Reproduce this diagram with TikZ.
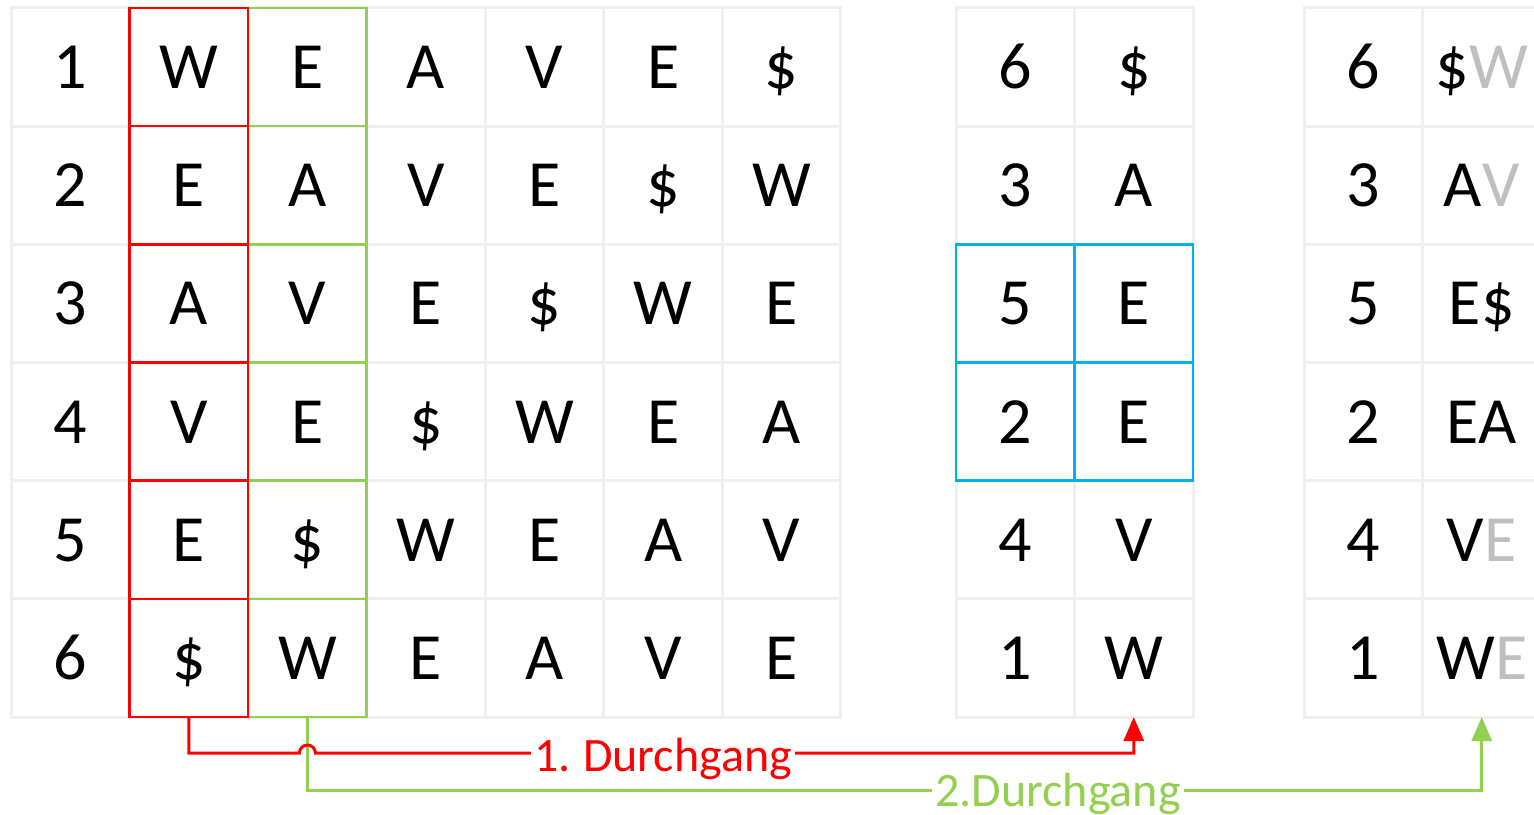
\documentclass[tikz,border=0pt]{standalone}
\usepackage{fontspec}
\setmainfont{Carlito}
\usetikzlibrary{arrows.meta,calc}
\definecolor{gridc}{HTML}{EFEFEF}
\definecolor{cred}{HTML}{FF0000}
\definecolor{cgreen}{HTML}{92D050}
\definecolor{cblue}{HTML}{00B0F0}
\definecolor{cgray}{HTML}{BFBFBF}
\tikzset{
 cell/.style={draw=gridc, line width=3pt, minimum width=118.5pt, minimum height=118.2pt,
   inner sep=0pt, outer sep=0pt, font=\fontsize{66}{70}\selectfont,
   text height=43pt, text depth=0pt, anchor=center},
 redbox/.style={draw=cred, line width=2.5pt},
 greenbox/.style={draw=cgreen, line width=2.5pt},
 bluebox/.style={draw=cblue, line width=2.5pt},
 redline/.style={draw=cred, line width=3pt, -{Triangle[width=20pt,length=24pt]}},
 greenline/.style={draw=cgreen, line width=3pt, -{Triangle[width=20pt,length=24pt]}},
 lab/.style={fill=white, inner xsep=3pt, inner ysep=0pt, font=\fontsize{48}{52}\selectfont,
   text height=31pt, text depth=0pt, anchor=center}
}
\begin{document}
\begin{tikzpicture}[x=1pt,y=1pt]
\useasboundingbox (0,0) rectangle (1534,-814);
\clip (0,0) rectangle (1534,-814);
\fill[white] (0,0) rectangle (1534,-814);
% left table
\foreach \r/\row in {1/{1,W,E,A,V,E,\$},2/{2,E,A,V,E,\$,W},3/{3,A,V,E,\$,W,E},
                     4/{4,V,E,\$,W,E,A},5/{5,E,\$,W,E,A,V},6/{6,\$,W,E,A,V,E}}{
  \foreach \t [count=\c] in \row {
    \node[cell] (L-\r-\c) at ({11+118.57*(\c-0.5)},{-(8+118.17*(\r-0.5))}) {\t};
  }
}
% middle table
\foreach \r/\a/\b in {1/6/\$,2/3/A,3/5/E,4/2/E,5/4/V,6/1/W}{
  \node[cell] (M-\r-1) at ({956+59.25},{-(8+118.17*(\r-0.5))}) {\a};
  \node[cell] (M-\r-2) at ({956+3*59.25},{-(8+118.17*(\r-0.5))}) {\b};
}
% right table
\foreach \r/\a/\b in {1/6/{\$\textcolor{cgray}{W}},2/3/{A\textcolor{cgray}{V}},3/5/{E\$},
                      4/2/{EA},5/4/{V\textcolor{cgray}{E}},6/1/{W\textcolor{cgray}{E}}}{
  \node[cell] (R-\r-1) at ({1304+59.25},{-(8+118.17*(\r-0.5))}) {\a};
  \node[cell] (R-\r-2) at ({1304+3*59.25},{-(8+118.17*(\r-0.5))}) {\b};
}
% highlight boxes
\foreach \r in {1,...,6}{
  \draw[greenbox] (L-\r-3.south west) rectangle (L-\r-3.north east);
}
\foreach \r in {1,...,6}{
  \draw[redbox] (L-\r-2.south west) rectangle (L-\r-2.north east);
}
\foreach \r in {3,4}{
  \draw[bluebox] (M-\r-1.south west) rectangle (M-\r-1.north east);
  \draw[bluebox] (M-\r-2.south west) rectangle (M-\r-2.north east);
}
% connectors
\draw[greenline] (L-6-3.south) -- ++(0,-73) coordinate (ga) -- (ga -| R-6-2.south) -- (R-6-2.south);
\draw[redline] (L-6-2.south) -- ++(0,-36) coordinate (ra)
   -- ([xshift=-8pt]ra -| L-6-3.south) arc[start angle=180,end angle=0,radius=8pt]
   -- (ra -| M-6-2.south) -- (M-6-2.south);
\node[lab, text=cred] (lab1) at (663,-756) {1.\kern-2pt{} Durchgang};
\node[lab, text=cgreen] (lab2) at (1058,-791) {2.Durchgang};
\end{tikzpicture}
\end{document}
